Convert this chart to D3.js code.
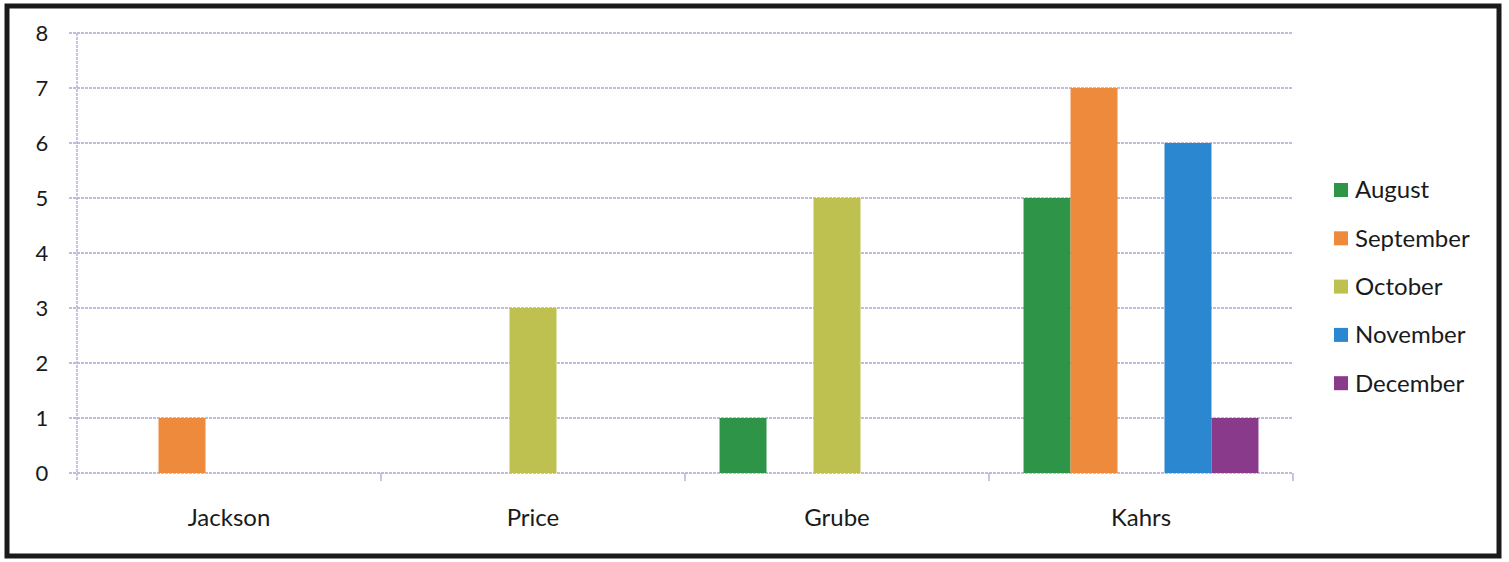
<!DOCTYPE html>
<html>
<head>
<meta charset="utf-8">
<script src="https://cdn.jsdelivr.net/npm/d3@7"></script>
<style>
  body { margin: 0; background: #fff; }
  text { font-family: Lato, "Open Sans", sans-serif; fill: #1a1a1a; }
</style>
</head>
<body>
<div id="chart"></div>
<script>
var categories = ["Jackson", "Price", "Grube", "Kahrs"];
var months = ["August", "September", "October", "November", "December"];
var august = [0, 0, 1, 5];
var september = [1, 0, 0, 7];
var october = [0, 3, 5, 0];
var november = [0, 0, 0, 6];
var december = [0, 0, 0, 1];
var yTicks = [0, 1, 2, 3, 4, 5, 6, 7, 8];

var colors = ["#2e9448", "#ee8a3b", "#bec150", "#2b87cf", "#8a3a8b"];
var series = [august, september, october, november, december];

var svgWidth = 1509;
var svgHeight = 562;

var svg = d3.select("#chart")
  .append("svg")
  .attr("width", svgWidth)
  .attr("height", svgHeight);

// scanned page frame
svg.append("rect")
  .attr("x", 7)
  .attr("y", 6)
  .attr("width", 1492)
  .attr("height", 550)
  .attr("fill", "white")
  .attr("stroke", "#1a1a1a")
  .attr("stroke-width", 5);

var plot = { left: 77, right: 1293, top: 33, bottom: 473 };

var x0 = d3.scaleBand()
  .domain(categories)
  .range([plot.left, plot.right]);

// 150% gap width split on both sides of each group
var x1 = d3.scaleBand()
  .domain(months)
  .range([0, x0.bandwidth()])
  .paddingOuter(0.735)
  .paddingInner(0);

var y = d3.scaleLinear()
  .domain([0, 8])
  .range([plot.bottom, plot.top]);

// gridlines
svg.append("g")
  .selectAll("line")
  .data(yTicks)
  .enter()
  .append("line")
  .attr("x1", plot.left - 8)
  .attr("x2", plot.right)
  .attr("y1", d => y(d))
  .attr("y2", d => y(d))
  .attr("stroke", "#aaa6d4")
  .attr("stroke-width", 1.3)
  .attr("stroke-dasharray", "3,1");

// y axis line
svg.append("line")
  .attr("x1", plot.left).attr("x2", plot.left)
  .attr("y1", plot.top).attr("y2", plot.bottom + 8)
  .attr("stroke", "#aaa6d4")
  .attr("stroke-width", 1.3)
  .attr("stroke-dasharray", "3,1");

// category ticks
svg.append("g")
  .selectAll("line")
  .data(categories)
  .enter()
  .append("line")
  .attr("x1", d => x0(d) + x0.bandwidth())
  .attr("x2", d => x0(d) + x0.bandwidth())
  .attr("y1", plot.bottom)
  .attr("y2", plot.bottom + 8)
  .attr("stroke", "#aaa6d4")
  .attr("stroke-width", 1.3);

// y labels
svg.append("g")
  .selectAll("text")
  .data(yTicks)
  .enter()
  .append("text")
  .attr("x", 42)
  .attr("y", d => y(d))
  .attr("dy", "0.35em")
  .attr("text-anchor", "middle")
  .style("font-size", "22px")
  .text(d => d);

// x labels
svg.append("g")
  .selectAll("text")
  .data(categories)
  .enter()
  .append("text")
  .attr("x", d => x0(d) + x0.bandwidth() / 2)
  .attr("y", 518)
  .attr("dy", "0.35em")
  .attr("text-anchor", "middle")
  .style("font-size", "24px")
  .text(d => d);

// bars
var groups = svg.append("g")
  .selectAll("g")
  .data(categories)
  .enter()
  .append("g")
  .attr("transform", d => `translate(${x0(d)},0)`);

groups.selectAll("rect")
  .data((d, i) => months.map((m, j) => ({ month: m, value: series[j][i], color: colors[j] })))
  .enter()
  .filter(d => d.value > 0)
  .append("rect")
  .attr("x", d => x1(d.month))
  .attr("width", x1.bandwidth())
  .attr("y", d => y(d.value))
  .attr("height", d => y(0) - y(d.value))
  .attr("fill", d => d.color);

// legend
var legend = svg.append("g")
  .selectAll("g")
  .data(months)
  .enter()
  .append("g")
  .attr("transform", (d, i) => `translate(1334, ${190 + i * 48.3})`);

legend.append("rect")
  .attr("x", 0)
  .attr("y", -7)
  .attr("width", 14)
  .attr("height", 14)
  .attr("fill", (d, i) => colors[i]);

legend.append("text")
  .attr("x", 21)
  .attr("y", 0)
  .attr("dy", "0.35em")
  .style("font-size", "24px")
  .text(d => d);
</script>
</body>
</html>
